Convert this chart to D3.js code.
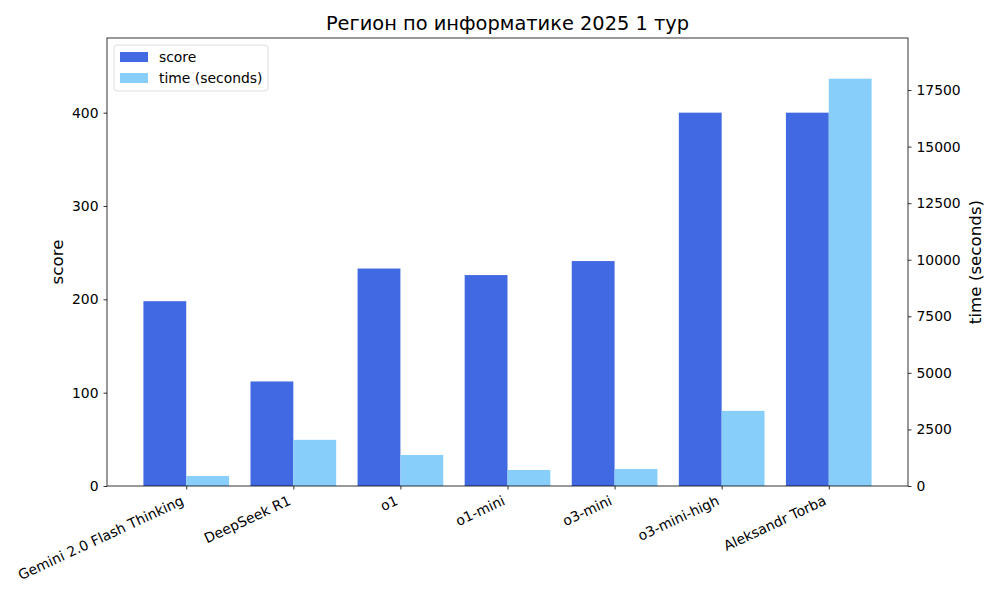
<!DOCTYPE html>
<html>
<head>
<meta charset="utf-8">
<script src="https://cdn.jsdelivr.net/npm/d3@7"></script>
<style>
  body { margin: 0; background: #fff; }
  text { font-family: "DejaVu Sans", sans-serif; fill: #000; }
</style>
</head>
<body>
<svg id="chart" width="1000" height="600"></svg>
<script>
const models = ["Gemini 2.0 Flash Thinking", "DeepSeek R1", "o1", "o1-mini", "o3-mini", "o3-mini-high", "Aleksandr Torba"];
const scores = [198, 112, 233, 226, 241, 400, 400];
const times = [440, 2040, 1370, 710, 750, 3320, 18000];
const scoreTicks = [0, 100, 200, 300, 400];
const timeTicks = [0, 2500, 5000, 7500, 10000, 12500, 15000, 17500];

const pLeft = 107, pRight = 908, pTop = 38, pBottom = 486;
const svg = d3.select("#chart");

// bars sit at i-0.2 and i+0.2 with width 0.4, matplotlib style margins
const x = d3.scaleLinear().domain([-0.74, models.length - 1 + 0.74]).range([pLeft, pRight]);
const yScore = d3.scaleLinear().domain([0, d3.max(scores) * 1.2]).range([pBottom, pTop]);
const yTime = d3.scaleLinear().domain([0, d3.max(times) * 1.1]).range([pBottom, pTop]);
const bw = x(0.4) - x(0);

svg.append("g").selectAll("rect").data(scores).enter().append("rect")
  .attr("x", (d, i) => x(i - 0.4)).attr("width", bw)
  .attr("y", d => yScore(d)).attr("height", d => pBottom - yScore(d))
  .attr("fill", "#4169e1");

svg.append("g").selectAll("rect").data(times).enter().append("rect")
  .attr("x", (d, i) => x(i)).attr("width", bw)
  .attr("y", d => yTime(d)).attr("height", d => pBottom - yTime(d))
  .attr("fill", "#87cefa");

// axes
const fmt = d3.format("d");
const gl = svg.append("g").attr("transform", `translate(${pLeft},0)`)
  .call(d3.axisLeft(yScore).tickValues(scoreTicks).tickFormat(fmt).tickSize(3.5).tickPadding(5));
const gr = svg.append("g").attr("transform", `translate(${pRight},0)`)
  .call(d3.axisRight(yTime).tickValues(timeTicks).tickFormat(fmt).tickSize(3.5).tickPadding(5));
const gb = svg.append("g").attr("transform", `translate(0,${pBottom})`)
  .call(d3.axisBottom(x).tickValues(d3.range(models.length)).tickFormat(i => models[i]).tickSize(3.5).tickPadding(5));

[gl, gr, gb].forEach(g => {
  g.select(".domain").remove();
  g.selectAll("line").attr("stroke", "#000").attr("stroke-width", 0.8);
  g.selectAll("text").attr("font-size", "13.9px").attr("font-family", "DejaVu Sans");
});

gb.selectAll("text")
  .attr("text-anchor", "end")
  .attr("dy", null)
  .attr("y", 0).attr("x", 0)
  .attr("transform", "translate(-2,18) rotate(-25)");

svg.append("rect").attr("x", pLeft).attr("y", pTop)
  .attr("width", pRight - pLeft).attr("height", pBottom - pTop)
  .attr("fill", "none").attr("stroke", "#000").attr("stroke-width", 0.8);

// titles
svg.append("text").attr("x", (pLeft + pRight) / 2).attr("y", 30)
  .attr("text-anchor", "middle").attr("font-size", "19.4px")
  .text("Регион по информатике 2025 1 тур");
svg.append("text").attr("transform", `translate(63,${(pTop + pBottom) / 2}) rotate(-90)`)
  .attr("text-anchor", "middle").attr("font-size", "16.7px").text("score");
svg.append("text").attr("transform", `translate(981,${(pTop + pBottom) / 2}) rotate(-90)`)
  .attr("text-anchor", "middle").attr("font-size", "16.7px").text("time (seconds)");

// legend
const lg = svg.append("g").attr("transform", "translate(114,45)");
lg.append("rect").attr("width", 154).attr("height", 46).attr("rx", 3)
  .attr("fill", "#fff").attr("fill-opacity", 0.8).attr("stroke", "#d6d6d6").attr("stroke-width", 0.8);
const items = [["score", "#4169e1"], ["time (seconds)", "#87cefa"]];
items.forEach((it, i) => {
  lg.append("rect").attr("x", 6).attr("y", 7 + i * 21).attr("width", 28).attr("height", 10).attr("fill", it[1]);
  lg.append("text").attr("x", 45).attr("y", 17 + i * 21).attr("font-size", "13.9px").text(it[0]);
});
</script>
</body>
</html>
